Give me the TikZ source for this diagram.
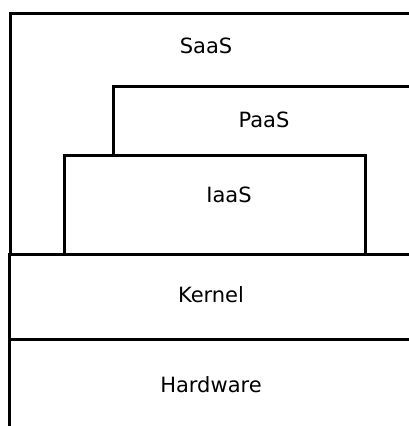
\documentclass[tikz,border=0pt]{standalone}
\usepackage{fontspec}
\setmainfont{DejaVu Sans}
\begin{document}
\begin{tikzpicture}[x=1pt,y=-1pt,
  edge/.style={line width=3pt,line join=miter,black},
  lbl/.style={font=\fontsize{21}{25}\selectfont,inner sep=0pt,anchor=base}]
\clip (0,0) rectangle (409,426);
\fill[white] (0,0) rectangle (409,426);
% SaaS
\draw[edge] (10.5,254) -- (10.5,13) -- (415,13);
% PaaS
\draw[edge] (113,155) -- (113,86) -- (415,86);
% IaaS
\draw[edge] (64.5,254) -- (64.5,155) -- (365,155) -- (365,254);
% Kernel
\draw[edge] (415,254) -- (9,254) -- (9,432);
% Hardware
\draw[edge] (9,339) -- (415,339);
\node[lbl] (saas) at (206,53) {SaaS};
\node[lbl] (paas) at (264,127) {PaaS};
\node[lbl] (iaas) at (229,202.5) {IaaS};
\node[lbl] (kernel) at (211,302) {Kernel};
\node[lbl] (hw) at (211,392) {Hardware};
\end{tikzpicture}
\end{document}
